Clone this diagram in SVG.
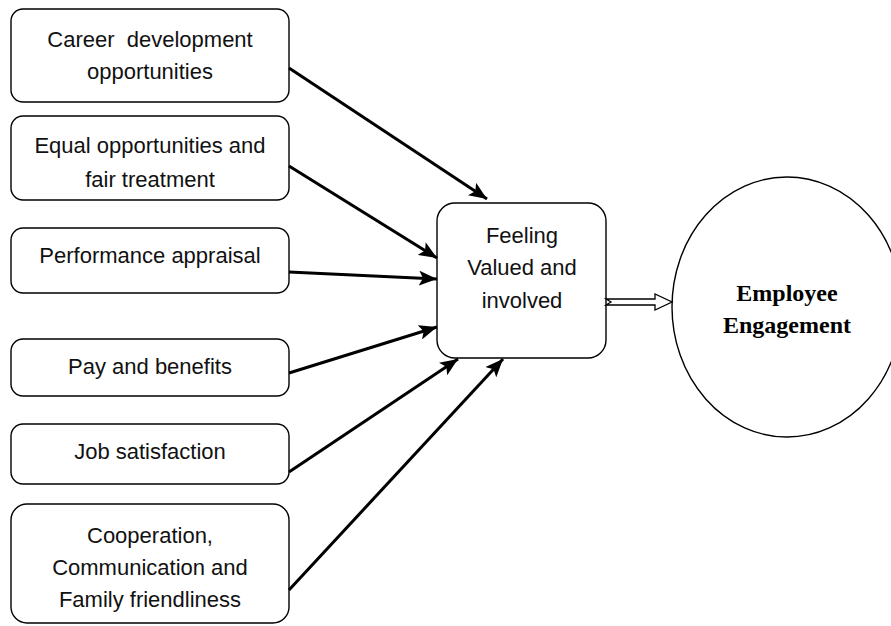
<svg xmlns="http://www.w3.org/2000/svg" width="891" height="626" viewBox="0 0 891 626">
<style>
.box{fill:#fff;stroke:#000;stroke-width:1.4}
.t{font-family:"Liberation Sans",Arial,sans-serif;font-size:22px;fill:#111;text-anchor:middle}
.b{font-family:"Liberation Serif","Times New Roman",serif;font-size:24px;font-weight:bold;fill:#000;text-anchor:middle}
.c{stroke:#000;stroke-width:3;fill:none;marker-end:url(#ah)}
</style>
<defs>
<marker id="ah" markerUnits="userSpaceOnUse" markerWidth="19" markerHeight="15" refX="18" refY="7.5" orient="auto" viewBox="0 0 19 15">
<path d="M0,0 L18,7.5 L0,15 L4,7.5 Z" fill="#000"/>
</marker>
</defs>
<rect width="891" height="626" fill="#fff"/>
<g id="n1"><rect class="box" x="11" y="9" width="278" height="93" rx="12"/><text class="t" x="150" y="47">Career&#160; development</text><text class="t" x="150" y="79">opportunities</text></g>
<g id="n2"><rect class="box" x="11" y="116" width="278" height="84" rx="12"/><text class="t" x="150" y="153">Equal opportunities and</text><text class="t" x="150" y="187">fair treatment</text></g>
<g id="n3"><rect class="box" x="11" y="228" width="278" height="65" rx="12"/><text class="t" x="150" y="263">Performance appraisal</text></g>
<g id="n4"><rect class="box" x="11" y="339" width="278" height="57" rx="12"/><text class="t" x="150" y="374">Pay and benefits</text></g>
<g id="n5"><rect class="box" x="11" y="424" width="278" height="60" rx="12"/><text class="t" x="150" y="459">Job satisfaction</text></g>
<g id="n6"><rect class="box" x="11" y="504" width="278" height="119" rx="16"/><text class="t" x="150" y="543">Cooperation,</text><text class="t" x="150" y="575">Communication and</text><text class="t" x="150" y="607">Family friendliness</text></g>
<g id="center"><rect class="box" x="437" y="203" width="169" height="155" rx="18"/><text class="t" x="522" y="243">Feeling</text><text class="t" x="522" y="275">Valued and</text><text class="t" x="522" y="308">involved</text></g>
<g id="engagement"><ellipse class="box" cx="787" cy="307" rx="115" ry="130"/><text class="b" x="787" y="301">Employee</text><text class="b" x="787" y="333">Engagement</text></g>
<g id="connectors">
<line class="c" x1="289" y1="68" x2="487" y2="199"/>
<line class="c" x1="289" y1="166" x2="437" y2="258"/>
<line class="c" x1="289" y1="272" x2="437" y2="279"/>
<line class="c" x1="289" y1="373" x2="437" y2="327"/>
<line class="c" x1="289" y1="472" x2="458" y2="359"/>
<line class="c" x1="289" y1="590" x2="503" y2="359"/>
<path d="M606,299 L655,299 L655,294 L672,302 L655,310 L655,305 L606,305 L611,302 Z" fill="#fff" stroke="#000" stroke-width="1.3"/>
</g>
</svg>
